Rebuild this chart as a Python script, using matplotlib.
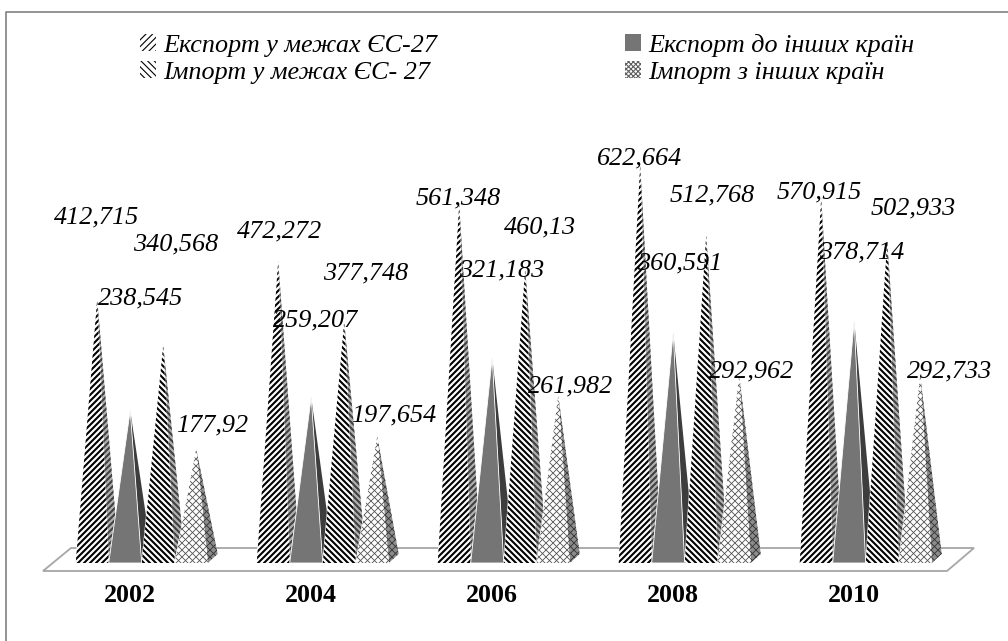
import numpy as np
import matplotlib
matplotlib.use("Agg")
import matplotlib.pyplot as plt
from matplotlib.collections import LineCollection
from matplotlib.patches import Patch, Polygon

years = ["2002", "2004", "2006", "2008", "2010"]
export_eu = [412.715, 472.272, 561.348, 622.664, 570.915]
export_other = [238.545, 259.207, 321.183, 360.591, 378.714]
import_eu = [340.568, 377.748, 460.13, 512.768, 502.933]
import_other = [177.92, 197.654, 261.982, 292.962, 292.733]
value_labels = [
    ["412,715", "472,272", "561,348", "622,664", "570,915"],
    ["238,545", "259,207", "321,183", "360,591", "378,714"],
    ["340,568", "377,748", "460,13", "512,768", "502,933"],
    ["177,92", "197,654", "261,982", "292,962", "292,733"],
]
series_names = [
    "Експорт у межах ЄС-27",
    "Імпорт у межах ЄС- 27",
    "Експорт до інших країн",
    "Імпорт з інших країн",
]

# centres of the value labels in image pixels, they were placed by hand in the original
label_px = [
    [(97, 217), (280, 231), (458, 198), (640, 158), (819, 192)],
    [(141, 298), (316, 320), (502, 270), (680, 263), (862, 252)],
    [(176, 244), (366, 273), (540, 227), (712, 195), (913, 208)],
    [(212, 425), (394, 415), (571, 386), (752, 371), (950, 371)],
]

px_per_unit = 0.64
group_px = 181.0
first_px = 130.0
base_px = 563.0
bar_width = 33 / group_px
depth_x = 10 / group_px
depth_y = 9 / px_per_unit
apex_shift = 5 / group_px

plt.rcParams["font.family"] = ["Liberation Serif", "DejaVu Serif"]
plt.rcParams["hatch.linewidth"] = 0.8

fig = plt.figure(figsize=(10.08, 6.41), dpi=100)
ax = fig.add_axes([0, 0, 1, 1])
ax.set_xlim(-first_px / group_px, (1008 - first_px) / group_px)
ax.set_ylim((base_px - 641) / px_per_unit, base_px / px_per_unit)
ax.axis("off")


def px(x, y):
    return ((x - first_px) / group_px, (base_px - y) / px_per_unit)


def stripes(patch, spacing, direction, lw, color="black"):
    # diagonal lines clipped to a polygon, spaced in screen pixels
    pts = ax.transData.transform(patch.get_xy())
    c = pts[:, 1] - direction * pts[:, 0]
    offsets = np.arange(np.floor(c.min() / spacing) * spacing, c.max() + spacing, spacing)
    x0, x1 = pts[:, 0].min() - 5, pts[:, 0].max() + 5
    segs = [[(x0, direction * x0 + k), (x1, direction * x1 + k)] for k in offsets]
    lines = LineCollection(segs, colors=color, linewidths=lw, transform=None,
                           zorder=patch.get_zorder())
    ax.add_collection(lines, autolim=False)
    lines.set_clip_path(patch)


def pyramid(left, value, order, style):
    right = left + bar_width
    apex = left + bar_width / 2 + apex_shift
    z = 3 + order
    side = Polygon([(right, 0), (right + depth_x, depth_y), (apex, value)],
                   facecolor=style["side"], edgecolor="none", zorder=z)
    front = Polygon([(left, 0), (right, 0), (apex, value)],
                    facecolor=style["front"], edgecolor="white", linewidth=0.6, zorder=z)
    ax.add_patch(side)
    ax.add_patch(front)
    for direction in style["dirs"]:
        stripes(front, style["spacing"], direction, style["lw"], style["color"])
        stripes(side, style["spacing"], direction, style["lw"], style["side_color"])


# only the top and left edges of the frame are in the picture
ax.plot(*zip(px(6, 641), px(6, 12), px(1008, 12)), color="#808080", linewidth=1.2, zorder=1)
ax.add_patch(Polygon([px(43, 571), px(947, 571), px(974, 548), px(71, 548)],
                     facecolor="white", edgecolor="#a6a6a6", linewidth=1.3, zorder=2))

styles = [
    dict(front="white", side="#b0b0b0", dirs=[1], spacing=6.0, lw=1.5, color="black", side_color="#404040"),
    dict(front="#757575", side="#3d3d3d", dirs=[], spacing=6.0, lw=0, color="black", side_color="black"),
    dict(front="white", side="#b0b0b0", dirs=[-1], spacing=6.0, lw=1.5, color="black", side_color="#404040"),
    dict(front="white", side="#8c8c8c", dirs=[1, -1], spacing=7.0, lw=0.6, color="#505050", side_color="#303030"),
]
series = [export_eu, export_other, import_eu, import_other]

for i in range(len(years)):
    for j, values in enumerate(series):
        left = i - 0.3 + j * bar_width
        pyramid(left, values[i], i * 4 + j, styles[j])
        ax.text(*px(*label_px[j][i]), value_labels[j][i], ha="center", va="center",
                fontsize=18.8, style="italic", color="black", zorder=60)
    ax.text(i, (base_px - 595) / px_per_unit, years[i], ha="center", va="center",
            fontsize=18.7, fontweight="bold", color="black", zorder=60)

handles = [
    Patch(facecolor="white", edgecolor="black", hatch="/////", linewidth=0),
    Patch(facecolor="white", edgecolor="black", hatch="\\\\\\\\\\", linewidth=0),
    Patch(facecolor="#757575", edgecolor="#757575", linewidth=0),
    Patch(facecolor="white", edgecolor="#606060", hatch="xxxxxxx", linewidth=0),
]
fig.legend(handles, series_names, loc="upper left", bbox_to_anchor=(140 / 1008, 1 - 34 / 641),
           ncols=2, frameon=False, handlelength=0.62, handleheight=0.62, handletextpad=0.27,
           columnspacing=7.2, labelspacing=0.16, borderpad=0, borderaxespad=0,
           prop=dict(family="Liberation Serif", style="italic", size=18.8))

fig.savefig("out.png", dpi=100)
